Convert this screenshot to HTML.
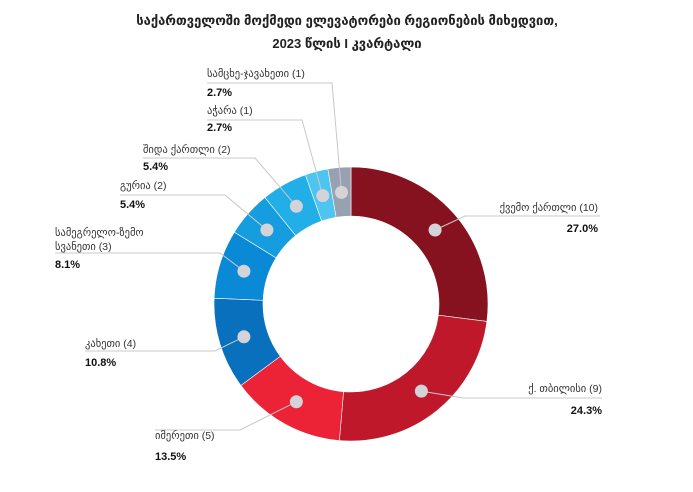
<!DOCTYPE html>
<html><head><meta charset="utf-8">
<style>
html,body{margin:0;padding:0;background:#fff;}
body{width:693px;height:487px;overflow:hidden;font-family:"Liberation Sans","DejaVu Sans",sans-serif;}
svg text{font-family:"Liberation Sans","DejaVu Sans",sans-serif;}
</style></head>
<body>
<svg id="chart" width="693" height="487" viewBox="0 0 693 487" xmlns="http://www.w3.org/2000/svg">
<text x="347" y="25" text-anchor="middle" font-size="13" font-weight="bold" fill="#222">საქართველოში მოქმედი ელევატორები რეგიონების მიხედვით,</text>
<text x="347" y="48" text-anchor="middle" font-size="13" font-weight="bold" fill="#222">2023 წლის  I კვარტალი</text>
<g id="slices"></g><g id="labels"></g>
</svg>
<script>
const categories=["ქვემო ქართლი","ქ. თბილისი","იმერეთი","კახეთი","სამეგრელო-ზემო სვანეთი","გურია","შიდა ქართლი","აჭარა","სამცხე-ჯავახეთი"];
const counts=[10,9,5,4,3,2,2,1,1];
const percentLabels=["27.0%","24.3%","13.5%","10.8%","8.1%","5.4%","5.4%","2.7%","2.7%"];
const colors=["#87121F","#C0182B","#EC2236","#0870BD","#0A89D6","#159DDF","#22AEE6","#4EC4F1","#98A1B1"];
// label layout: [anchor, textX, nameY, pctY, lineY, lineEndX, elbowX]
const layout=[
 ["end",598,211,232,216,600,465],
 ["end",602,392,414,398,602,463],
 ["start",155,439,460,430,155,240],
 ["start",85,347,366,351,85,215],
 ["start",55,236,268,253,55,220],
 ["start",120,189,208,195,120,225],
 ["start",143,153,170,158,143,255],
 ["start",207,114,131,120,207,302],
 ["start",207,77,96,83,207,332]
];
const NS="http://www.w3.org/2000/svg";
const cx=351,cy=304,R=137,r0=88,rd=112;
const total=counts.reduce((a,b)=>a+b,0);
const sg=document.getElementById('slices'),lg=document.getElementById('labels');
function pt(a,rad){return [cx+rad*Math.sin(a),cy-rad*Math.cos(a)];}
let acc=0;
counts.forEach((v,i)=>{
 const a0=acc/total*2*Math.PI; acc+=v; const a1=acc/total*2*Math.PI;
 const large=(a1-a0)>Math.PI?1:0;
 const p1=pt(a0,R),p2=pt(a1,R),p3=pt(a1,r0),p4=pt(a0,r0);
 const path=document.createElementNS(NS,'path');
 path.setAttribute('d',`M${p1[0]},${p1[1]} A${R},${R} 0 ${large} 1 ${p2[0]},${p2[1]} L${p3[0]},${p3[1]} A${r0},${r0} 0 ${large} 0 ${p4[0]},${p4[1]} Z`);
 path.setAttribute('fill',colors[i]);path.setAttribute('stroke','#fff');path.setAttribute('stroke-width','0.6');
 
 
 sg.appendChild(path);
 const am=(a0+a1)/2; const d=pt(am,rd);
 const L=layout[i];
 const line=document.createElementNS(NS,'polyline');
 line.setAttribute('points',`${d[0]},${d[1]} ${L[6]},${L[4]} ${L[5]},${L[4]}`);
 line.setAttribute('fill','none');line.setAttribute('stroke','#c8c8c8');line.setAttribute('stroke-width','1');
 
 
 lg.appendChild(line);
 const c=document.createElementNS(NS,'circle');
 c.setAttribute('cx',d[0]);c.setAttribute('cy',d[1]);c.setAttribute('r','6.5');c.setAttribute('fill','#d4d4d8');
 
 
 lg.appendChild(c);
 const name=categories[i]+" ("+counts[i]+")";
 const lines=(i===4)?["სამეგრელო-ზემო","სვანეთი (3)"]:[name];
 lines.forEach((s,k)=>{
  const t=document.createElementNS(NS,'text');
  t.setAttribute('x',L[1]);t.setAttribute('y',L[2]+k*14);t.setAttribute('text-anchor',L[0]);
  t.setAttribute('font-size','10.5');t.setAttribute('fill','#333');t.textContent=s;
  
  
  lg.appendChild(t);
 });
 const tp=document.createElementNS(NS,'text');
 tp.setAttribute('x',L[1]);tp.setAttribute('y',L[3]);tp.setAttribute('text-anchor',L[0]);
 tp.setAttribute('font-size','11');tp.setAttribute('font-weight','bold');tp.setAttribute('fill','#111');tp.textContent=percentLabels[i];
 
 
 lg.appendChild(tp);
});
</script>
</body></html>
